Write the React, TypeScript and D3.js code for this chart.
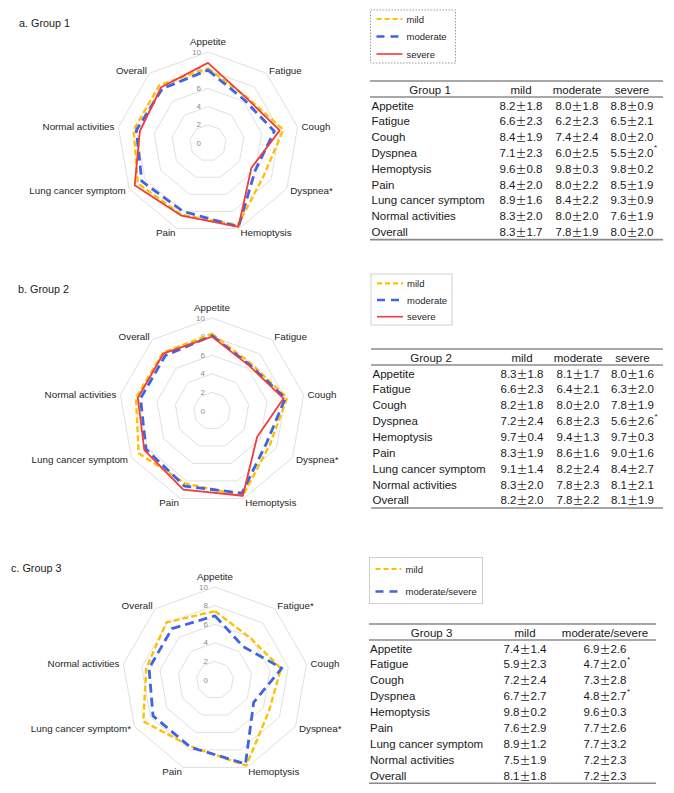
import React from "react";
import * as d3 from "d3";

const axes = ["Appetite", "Fatigue", "Cough", "Dyspnea", "Hemoptysis", "Pain", "Lung cancer symptom", "Normal activities", "Overall"];
const radarTicks = [0, 2, 4, 6, 8, 10];

const g1Labels = ["Appetite", "Fatigue", "Cough", "Dyspnea*", "Hemoptysis", "Pain", "Lung cancer symptom", "Normal activities", "Overall"];
const g2Labels = ["Appetite", "Fatigue", "Cough", "Dyspnea*", "Hemoptysis", "Pain", "Lung cancer symptom", "Normal activities", "Overall"];
const g3Labels = ["Appetite", "Fatigue*", "Cough", "Dyspnea*", "Hemoptysis", "Pain", "Lung cancer symptom*", "Normal activities", "Overall"];

const g1Mild = [8.2, 6.6, 8.4, 7.1, 9.6, 8.4, 8.9, 8.3, 8.3];
const g1MildSd = [1.8, 2.3, 1.9, 2.3, 0.8, 2.0, 1.6, 2.0, 1.7];
const g1Moderate = [8.0, 6.2, 7.4, 6.0, 9.8, 8.0, 8.4, 8.0, 7.8];
const g1ModerateSd = [1.8, 2.3, 2.4, 2.5, 0.3, 2.2, 2.2, 2.0, 1.9];
const g1Severe = [8.8, 6.5, 8.0, 5.5, 9.8, 8.5, 9.3, 7.6, 8.0];
const g1SevereSd = [0.9, 2.1, 2.0, 2.0, 0.2, 1.9, 0.9, 1.9, 2.0];
const g1SevereSig = [0, 0, 0, 1, 0, 0, 0, 0, 0];

const g2Mild = [8.3, 6.6, 8.2, 7.2, 9.7, 8.3, 9.1, 8.3, 8.2];
const g2MildSd = [1.8, 2.3, 1.8, 2.4, 0.4, 1.9, 1.4, 2.0, 2.0];
const g2Moderate = [8.1, 6.4, 8.0, 6.8, 9.4, 8.6, 8.2, 7.8, 7.8];
const g2ModerateSd = [1.7, 2.1, 2.0, 2.3, 1.3, 1.6, 2.4, 2.3, 2.2];
const g2Severe = [8.0, 6.3, 7.8, 5.6, 9.7, 9.0, 8.4, 8.1, 8.1];
const g2SevereSd = [1.6, 2.0, 1.9, 2.6, 0.3, 1.6, 2.7, 2.1, 1.9];
const g2SevereSig = [0, 0, 0, 1, 0, 0, 0, 0, 0];

const g3Mild = [7.4, 5.9, 7.2, 6.7, 9.8, 7.6, 8.9, 7.5, 8.1];
const g3MildSd = [1.4, 2.3, 2.4, 2.7, 0.2, 2.9, 1.2, 1.9, 1.8];
const g3ModSev = [6.9, 4.7, 7.3, 4.8, 9.6, 7.7, 7.7, 7.2, 7.2];
const g3ModSevSd = [2.6, 2.0, 2.8, 2.7, 0.3, 2.6, 3.2, 2.3, 2.3];
const g3ModSevSig = [0, 1, 0, 1, 0, 0, 0, 0, 0];
const noSig = [0, 0, 0, 0, 0, 0, 0, 0, 0];

const FONT = "'Liberation Sans', Arial, sans-serif";
const YELLOW = "#FFC000";
const BLUE = "#3D63E6";
const RED = "#F03C3C";

const styles = {
  mild: { color: YELLOW, dash: "6,3", width: 2.4 },
  moderate: { color: BLUE, dash: "9,5", width: 2.8 },
  severe: { color: RED, dash: "", width: 1.8 },
};

type Series = { values: number[]; style: { color: string; dash: string; width: number } };

function Radar({ cx, cy, R, labels, series }: { cx: number; cy: number; R: number; labels: string[]; series: Series[] }) {
  const r = d3.scaleLinear().domain([0, 10]).range([0, R]);
  const angle = d3.scaleLinear().domain([0, axes.length]).range([0, 2 * Math.PI]);
  const radial = d3.lineRadial<number>().angle((_, i) => angle(i)).radius((d) => r(d)).curve(d3.curveLinearClosed);
  const ring = (v: number) => radial(axes.map(() => v)) as string;
  return (
    <g transform={`translate(${cx},${cy})`}>
      {radarTicks.filter((t) => t > 0).map((t) => (
        <path key={t} d={ring(t)} fill="none" stroke="#e0e0e0" strokeWidth={1} />
      ))}
      {radarTicks.map((t) => (
        <text key={t} x={-7} y={-r(t)} textAnchor="end" dominantBaseline="central" fontFamily={FONT} fontSize={8} fill="#8c8c8c">
          {t}
        </text>
      ))}
      {series.map((s, k) => (
        <path key={k} d={radial(s.values) as string} fill="none" stroke={s.style.color} strokeWidth={s.style.width} strokeDasharray={s.style.dash} strokeLinejoin="round" />
      ))}
      {labels.map((lab, i) => {
        const a = angle(i);
        const s = Math.sin(a);
        const off = i === 0 ? r(10) + 11 : r(10) + 4;
        const x = off * s;
        const y = -off * Math.cos(a);
        const anchor = Math.abs(s) < 0.01 ? "middle" : s > 0 ? "start" : "end";
        return (
          <text key={i} x={x} y={y} textAnchor={anchor} dominantBaseline="central" fontFamily={FONT} fontSize={9.8} fill="#262626">
            {lab}
          </text>
        );
      })}
    </g>
  );
}

function Legend({ x, y, w, h, dotted, items }: { x: number; y: number; w: number; h: number; dotted: boolean; items: { label: string; style: any; dy: number }[] }) {
  return (
    <g>
      <rect x={x} y={y} width={w} height={h} fill="none" stroke={dotted ? "#9a9a9a" : "#cfcfcf"} strokeWidth={1} strokeDasharray={dotted ? "1.5,1.5" : ""} />
      {items.map((it, i) => (
        <g key={i}>
          <line x1={x + 6} x2={x + 32} y1={y + it.dy} y2={y + it.dy} stroke={it.style.color} strokeWidth={it.style.width * 0.9} strokeDasharray={it.style.dash ? (it.style.dash === "6,3" ? "5,3" : "8,6") : ""} />
          <text x={x + 36} y={y + it.dy} dominantBaseline="central" fontFamily={FONT} fontSize={9.5} fill="#262626">
            {it.label}
          </text>
        </g>
      ))}
    </g>
  );
}

type Col = { mean: number[]; sd: number[]; sig: number[] };

function Table({ x0, x1, top, step, title, headers, labelX, titleX, colX, cols }: { x0: number; x1: number; top: number; step: number; title: string; headers: string[]; labelX: number; titleX: number; colX: number[]; cols: Col[] }) {
  const rowY = d3.scaleLinear().domain([0, 1]).range([top + 24.5, top + 24.5 + step]);
  const bottom = rowY(axes.length - 1) + 7.5;
  const fs = 11.5;
  return (
    <g fontFamily={FONT} fontSize={fs} fill="#1a1a1a">
      <line x1={x0} x2={x1} y1={top} y2={top} stroke="#8a8a8a" strokeWidth={1.6} />
      <line x1={x0} x2={x1} y1={top + 16} y2={top + 16} stroke="#404040" strokeWidth={0.9} />
      <line x1={x0} x2={x1} y1={bottom} y2={bottom} stroke="#8a8a8a" strokeWidth={1.6} />
      <text x={titleX} y={top + 9} textAnchor="middle" dominantBaseline="central">{title}</text>
      {headers.map((h, j) => (
        <text key={j} x={colX[j]} y={top + 9} textAnchor="middle" dominantBaseline="central">{h}</text>
      ))}
      {axes.map((a, i) => (
        <g key={i}>
          <text x={labelX} y={rowY(i)} dominantBaseline="central">{a}</text>
          {cols.map((c, j) => (
            <g key={j}>
              <text x={colX[j]} y={rowY(i)} textAnchor="middle" dominantBaseline="central">
                <tspan>{c.mean[i].toFixed(1)}</tspan>
                <tspan fontFamily="'Noto Sans CJK JP', sans-serif" fontSize={11}>±</tspan>
                <tspan>{c.sd[i].toFixed(1)}</tspan>
              </text>
              {c.sig[i] ? (
                <text x={colX[j] + 22} y={rowY(i) - 5} fontSize={8} dominantBaseline="central">*</text>
              ) : null}
            </g>
          ))}
        </g>
      ))}
    </g>
  );
}

export default function App() {
  return (
    <svg width={674} height={793} style={{ position: "absolute", left: 0, top: 0, background: "#fff" }}>
      <rect width={674} height={793} fill="#fff" />
      <text x={19} y={23} dominantBaseline="central" fontFamily={FONT} fontSize={10.8} fill="#1a1a1a">a. Group 1</text>
      <text x={18} y={289} dominantBaseline="central" fontFamily={FONT} fontSize={10.8} fill="#1a1a1a">b. Group 2</text>
      <text x={11} y={568} dominantBaseline="central" fontFamily={FONT} fontSize={10.8} fill="#1a1a1a">c. Group 3</text>

      <Radar cx={208} cy={143} R={91} labels={g1Labels} series={[
        { values: g1Mild, style: styles.mild },
        { values: g1Moderate, style: styles.moderate },
        { values: g1Severe, style: styles.severe },
      ]} />
      <Radar cx={212} cy={411} R={93} labels={g2Labels} series={[
        { values: g2Mild, style: styles.mild },
        { values: g2Moderate, style: styles.moderate },
        { values: g2Severe, style: styles.severe },
      ]} />
      <Radar cx={215} cy={680} R={93} labels={g3Labels} series={[
        { values: g3Mild, style: styles.mild },
        { values: g3ModSev, style: styles.moderate },
      ]} />

      <Legend x={370.5} y={10} w={85} h={53} dotted={true} items={[
        { label: "mild", style: styles.mild, dy: 9 },
        { label: "moderate", style: styles.moderate, dy: 26.5 },
        { label: "severe", style: styles.severe, dy: 44 },
      ]} />
      <Legend x={371} y={274} w={81} h={51} dotted={false} items={[
        { label: "mild", style: styles.mild, dy: 9.3 },
        { label: "moderate", style: styles.moderate, dy: 26 },
        { label: "severe", style: styles.severe, dy: 42.7 },
      ]} />
      <Legend x={369.5} y={557.5} w={113} h={46} dotted={false} items={[
        { label: "mild", style: styles.mild, dy: 11.5 },
        { label: "moderate/severe", style: styles.moderate, dy: 34 },
      ]} />

      <Table x0={370} x1={663} top={81} step={15.83} title="Group 1" headers={["mild", "moderate", "severe"]} labelX={371.5} titleX={430} colX={[521, 577, 632]} cols={[
        { mean: g1Mild, sd: g1MildSd, sig: noSig },
        { mean: g1Moderate, sd: g1ModerateSd, sig: noSig },
        { mean: g1Severe, sd: g1SevereSd, sig: g1SevereSig },
      ]} />
      <Table x0={371} x1={663} top={349} step={15.87} title="Group 2" headers={["mild", "moderate", "severe"]} labelX={372.5} titleX={431} colX={[522, 578, 632.5]} cols={[
        { mean: g2Mild, sd: g2MildSd, sig: noSig },
        { mean: g2Moderate, sd: g2ModerateSd, sig: noSig },
        { mean: g2Severe, sd: g2SevereSd, sig: g2SevereSig },
      ]} />
      <Table x0={369} x1={656} top={624} step={15.9} title="Group 3" headers={["mild", "moderate/severe"]} labelX={370} titleX={431.5} colX={[525, 605]} cols={[
        { mean: g3Mild, sd: g3MildSd, sig: noSig },
        { mean: g3ModSev, sd: g3ModSevSd, sig: g3ModSevSig },
      ]} />
    </svg>
  );
}
